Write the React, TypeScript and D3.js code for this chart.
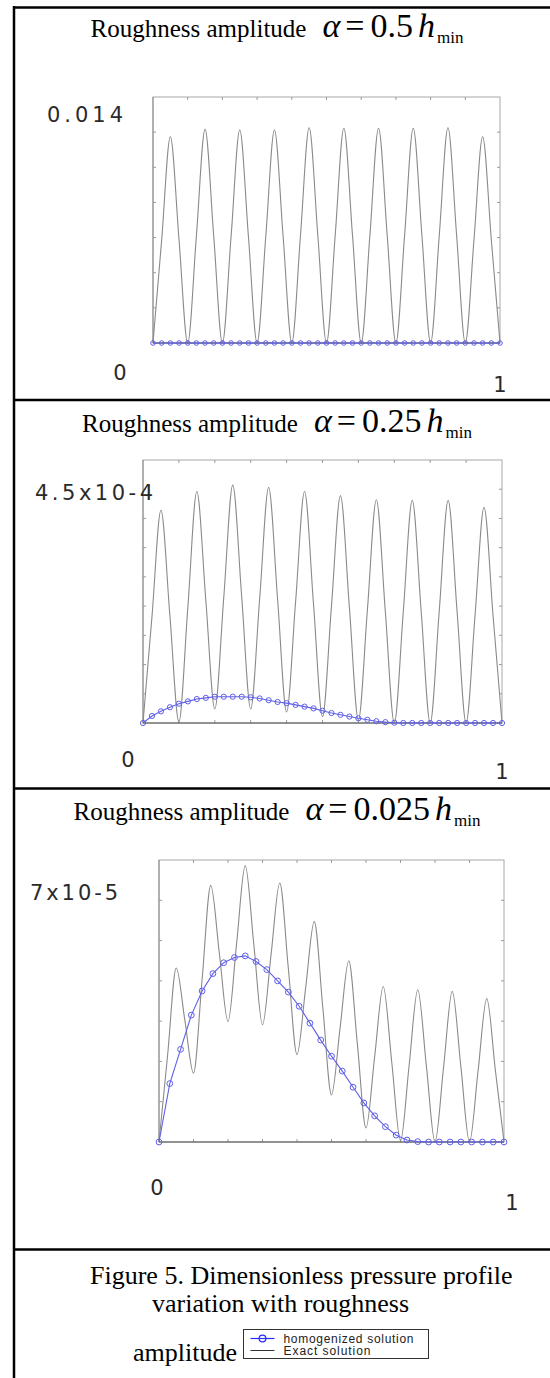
import React from 'react';
import * as d3 from 'd3';

const W = 550;
const H = 1378;

// x (0..1) of the points: trough, mid, peak, mid ...
const xExact = [
  0, 0.025, 0.05, 0.075, 0.1, 0.125, 0.15, 0.175, 0.2, 0.225, 0.25, 0.275, 0.3, 0.325,
  0.35, 0.375, 0.4, 0.425, 0.45, 0.475, 0.5, 0.525, 0.55, 0.575, 0.6, 0.625, 0.65, 0.675,
  0.7, 0.725, 0.75, 0.775, 0.8, 0.825, 0.85, 0.875, 0.9, 0.925, 0.95, 0.975, 1,
];

// marker positions of the homogenized solution
const xHom41 = [
  0, 0.025, 0.05, 0.075, 0.1, 0.125, 0.15, 0.175, 0.2, 0.225, 0.25, 0.275, 0.3, 0.325,
  0.35, 0.375, 0.4, 0.425, 0.45, 0.475, 0.5, 0.525, 0.55, 0.575, 0.6, 0.625, 0.65, 0.675,
  0.7, 0.725, 0.75, 0.775, 0.8, 0.825, 0.85, 0.875, 0.9, 0.925, 0.95, 0.975, 1,
];
const xHom33 = [
  0, 0.03125, 0.0625, 0.09375, 0.125, 0.15625, 0.1875, 0.21875, 0.25, 0.28125, 0.3125,
  0.34375, 0.375, 0.40625, 0.4375, 0.46875, 0.5, 0.53125, 0.5625, 0.59375, 0.625, 0.65625,
  0.6875, 0.71875, 0.75, 0.78125, 0.8125, 0.84375, 0.875, 0.90625, 0.9375, 0.96875, 1,
];

// alpha = 0.5 h_min
const exactA = [
  0, 0.00587, 0.01174, 0.00587, 0, 0.00608, 0.01216, 0.00608, 0, 0.00606, 0.01212, 0.00606,
  0, 0.00606, 0.01212, 0.00606, 0, 0.00612, 0.01225, 0.00612, 0, 0.00611, 0.01222, 0.00611,
  0, 0.00611, 0.01222, 0.00611, 0, 0.00611, 0.01222, 0.00611, 0, 0.00612, 0.01225, 0.00612,
  0, 0.00587, 0.01174, 0.00587, 0,
];
const homA = [
  0, 0, 0, 0, 0, 0, 0, 0, 0, 0, 0, 0, 0, 0, 0, 0, 0, 0, 0, 0, 0,
  0, 0, 0, 0, 0, 0, 0, 0, 0, 0, 0, 0, 0, 0, 0, 0, 0, 0, 0, 0,
];

// alpha = 0.25 h_min  (x 1e-4)
const exactB = [
  0, 1.82, 3.64, 1.83, 0.02, 1.99, 3.96, 2.1, 0.24, 2.15, 4.07, 2.15, 0.24, 2.13, 4.03,
  2.11, 0.19, 2.07, 3.96, 2.03, 0.11, 2.0, 3.89, 1.97, 0.05, 1.93, 3.82, 1.91, 0, 1.9,
  3.81, 1.9, 0, 1.9, 3.81, 1.9, 0, 1.85, 3.69, 1.84, 0,
];
const homB = [
  0, 0.12, 0.2, 0.27, 0.33, 0.37, 0.41, 0.43, 0.45, 0.45, 0.45, 0.45, 0.44, 0.42, 0.39,
  0.36, 0.34, 0.31, 0.28, 0.25, 0.21, 0.17, 0.14, 0.11, 0.08, 0.055, 0.03, 0.015, 0.005,
  0, 0, 0, 0, 0, 0, 0, 0, 0, 0, 0, 0,
];

// alpha = 0.025 h_min  (x 1e-5)
const exactC = [
  0, 2.16, 4.32, 3.02, 1.71, 4.04, 6.37, 4.68, 2.99, 4.93, 6.86, 4.89, 2.91, 4.67, 6.43,
  4.3, 2.17, 3.82, 5.47, 3.32, 1.17, 2.84, 4.5, 2.43, 0.35, 2.11, 3.86, 1.95, 0.03, 1.9,
  3.78, 1.89, 0, 1.87, 3.74, 1.87, 0, 1.78, 3.56, 1.78, 0,
];
const homC = [
  0, 1.45, 2.3, 3.15, 3.75, 4.18, 4.45, 4.58, 4.62, 4.48, 4.28, 4.0, 3.72, 3.37, 2.95,
  2.53, 2.13, 1.76, 1.36, 0.97, 0.65, 0.38, 0.17, 0.05, 0.01, 0, 0, 0, 0, 0, 0, 0, 0,
];

const alphaLabels = ['0.5', '0.25', '0.025'];
const yTopLabels = ['0.014', '4.5x10-4', '7x10-5'];
const yTopValues = [0.014, 4.5, 7];
const yTickCounts = [7, 9, 7];

const serif = '"Liberation Serif", "Times New Roman", serif';
const sans = '"DejaVu Sans", "Liberation Sans", sans-serif';
const BLUE = '#5f5fe8';
const GRAY = '#8a8a8a';

const panels = [
  {
    alpha: alphaLabels[0], titleY: 37,
    box: { left: 153, right: 500, top: 97, bottom: 343 },
    xs: xExact, exact: exactA, hxs: xHom41, hom: homA,
    yMax: yTopValues[0], yTicks: yTickCounts[0], r: 2.3,
    yLabel: { text: yTopLabels[0], x: 47, y: 115, w: 76 },
    zero: { x: 120, y: 373 }, one: { x: 500, y: 385 },
  },
  {
    alpha: alphaLabels[1], titleY: 432,
    box: { left: 143, right: 502, top: 460, bottom: 723 },
    xs: xExact, exact: exactB, hxs: xHom41, hom: homB,
    yMax: yTopValues[1], yTicks: yTickCounts[1], r: 2.6,
    yLabel: { text: yTopLabels[1], x: 35, y: 493, w: 118 },
    zero: { x: 128, y: 760 }, one: { x: 502, y: 772 },
  },
  {
    alpha: alphaLabels[2], titleY: 820,
    box: { left: 159, right: 504, top: 860, bottom: 1142 },
    xs: xExact, exact: exactC, hxs: xHom33, hom: homC,
    yMax: yTopValues[2], yTicks: yTickCounts[2], r: 2.9,
    yLabel: { text: yTopLabels[2], x: 30, y: 893, w: 88 },
    zero: { x: 157, y: 1188 }, one: { x: 512, y: 1203 },
  },
];

function Title({ y, alpha }: { y: number; alpha: string }) {
  return (
    <text x={277} y={y} textAnchor="middle" fontFamily={serif} fill="#000">
      <tspan fontSize={25}>Roughness amplitude</tspan>
      <tspan dx={16} fontSize={34} fontStyle="italic">α</tspan>
      <tspan dx={5} fontSize={34}>=</tspan>
      <tspan dx={6} fontSize={34}>{alpha}</tspan>
      <tspan dx={5} fontSize={34} fontStyle="italic">h</tspan>
      <tspan dx={2} dy={6} fontSize={17}>min</tspan>
    </text>
  );
}

function Panel({ p }: { p: any }) {
  const { box } = p;
  const x = d3.scaleLinear().domain([0, 1]).range([box.left, box.right]);
  const y = d3.scaleLinear().domain([0, p.yMax]).range([box.bottom, box.top]);

  const exactLine = d3
    .line<number>()
    .x((_, i) => x(p.xs[i]))
    .y((d) => y(d))
    .curve(d3.curveMonotoneX);
  const homLine = d3
    .line<number>()
    .x((_, i) => x(p.hxs[i]))
    .y((d) => y(d));

  const xt = x.ticks(10).filter((t) => t > 0 && t < 1);
  const yt = y.ticks(p.yTicks).filter((t) => t > 0 && t < p.yMax);
  const tk = 3;

  return (
    <g>
      <Title y={p.titleY} alpha={p.alpha} />
      {/* frame */}
      <rect
        x={box.left}
        y={box.top}
        width={box.right - box.left}
        height={box.bottom - box.top}
        fill="none"
        stroke="#a8a8a8"
        strokeWidth={1}
      />
      <line x1={box.left} x2={box.left} y1={box.top} y2={box.bottom} stroke="#8c8c8c" />
      {xt.map((t) => (
        <g key={`x${t}`} stroke="#9a9a9a">
          <line x1={x(t)} x2={x(t)} y1={box.bottom} y2={box.bottom - tk} />
          <line x1={x(t)} x2={x(t)} y1={box.top} y2={box.top + tk} />
        </g>
      ))}
      {yt.map((t) => (
        <g key={`y${t}`} stroke="#9a9a9a">
          <line x1={box.left} x2={box.left + tk} y1={y(t)} y2={y(t)} />
          <line x1={box.right} x2={box.right - tk} y1={y(t)} y2={y(t)} />
        </g>
      ))}
      {/* exact solution */}
      <path d={exactLine(p.exact) || ''} fill="none" stroke={GRAY} strokeWidth={1.1} />
      <line x1={box.left} x2={box.right} y1={box.bottom} y2={box.bottom} stroke="#505050" strokeWidth={1.2} />
      {/* homogenized solution */}
      <path d={homLine(p.hom) || ''} fill="none" stroke={BLUE} strokeWidth={1.1} />
      {p.hom.map((v: number, i: number) => (
        <circle
          key={i}
          cx={x(p.hxs[i])}
          cy={y(v)}
          r={p.r}
          fill="none"
          stroke={BLUE}
          strokeWidth={1}
        />
      ))}
      {/* axis labels */}
      <g fontFamily={sans} fill="#2a2a2a" fontSize={21}>
        <text
          x={p.yLabel.x}
          y={p.yLabel.y}
          dy="0.35em"
          textLength={p.yLabel.w}
          lengthAdjust="spacing"
        >
          {p.yLabel.text}
        </text>
        <text x={p.zero.x} y={p.zero.y} dy="0.35em" textAnchor="middle">
          0
        </text>
        <text x={p.one.x} y={p.one.y} dy="0.35em" textAnchor="middle">
          1
        </text>
      </g>
    </g>
  );
}

function Legend() {
  const left = 243.5;
  const top = 1329.5;
  const row1 = top + 9;
  const row2 = top + 21;
  return (
    <g>
      <rect x={left} y={top} width={185} height={29} fill="#fff" stroke="#333" strokeWidth={1} />
      <line x1={left + 7} x2={left + 31} y1={row1} y2={row1} stroke="#2b2bff" strokeWidth={1.2} />
      <circle cx={left + 19} cy={row1} r={3.4} fill="none" stroke="#2b2bff" strokeWidth={1.2} />
      <line x1={left + 7} x2={left + 31} y1={row2} y2={row2} stroke="#333" strokeWidth={1} />
      <g fontFamily='"Liberation Sans", Arial, sans-serif' fontSize={12} fill="#222">
        <text x={left + 40} y={row1} dy="0.35em" textLength={130} lengthAdjust="spacing">
          homogenized solution
        </text>
        <text x={left + 40} y={row2} dy="0.35em" textLength={87} lengthAdjust="spacing">
          Exact solution
        </text>
      </g>
    </g>
  );
}

export default function App() {
  return (
    <svg
      width={W}
      height={H}
      viewBox={`0 0 ${W} ${H}`}
      style={{ position: 'absolute', left: 0, top: 0, background: '#fff' }}
    >
      <rect width={W} height={H} fill="#fff" />
      {panels.map((p, i) => (
        <Panel key={i} p={p} />
      ))}

      {/* table rules */}
      <g stroke="#000" strokeWidth={2.5}>
        <line x1={13} x2={W} y1={7.5} y2={7.5} />
        <line x1={14} x2={14} y1={6} y2={H} />
        <line x1={13} x2={W} y1={400} y2={400} />
        <line x1={13} x2={W} y1={788.5} y2={788.5} />
        <line x1={13} x2={W} y1={1249.5} y2={1249.5} />
      </g>

      {/* caption */}
      <g fontFamily={serif} fontSize={26} fill="#000">
        <text x={90} y={1284}>Figure 5. Dimensionless pressure profile</text>
        <text x={152} y={1312}>variation with roughness</text>
        <text x={133} y={1361}>amplitude</text>
      </g>
      <Legend />
    </svg>
  );
}
